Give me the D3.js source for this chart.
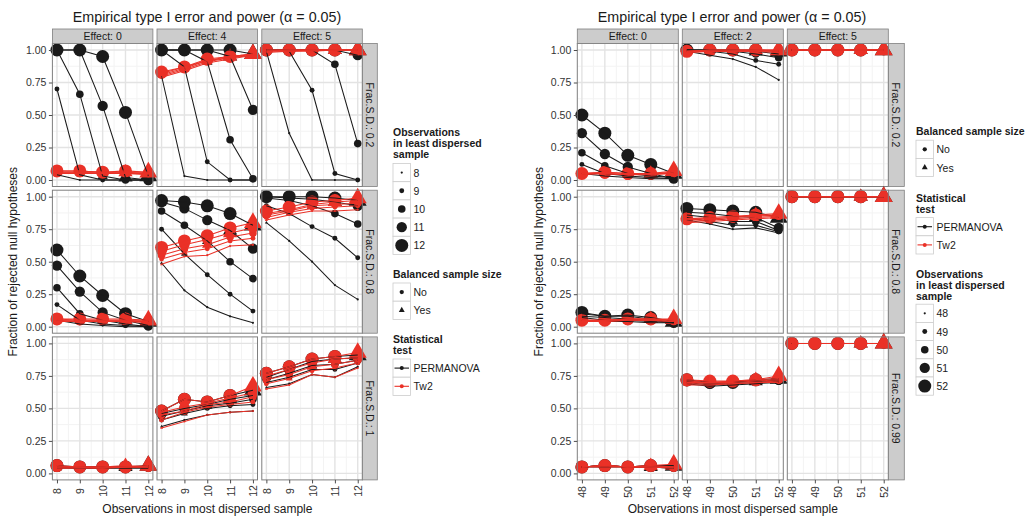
<!DOCTYPE html>
<html><head><meta charset="utf-8">
<script src="https://cdn.jsdelivr.net/npm/d3@7"></script>
<style>body{margin:0;background:#fff} svg{display:block;font-family:"Liberation Sans",Arial,Helvetica,sans-serif}</style>
</head><body><svg id="c" width="1027" height="517"></svg>
<script>
// ---------------- data ----------------
const leftObsMost = [8, 9, 10, 11, 12];
const leftObsLeast = [8, 9, 10, 11, 12];
const leftEffects = ["0", "4", "5"];
const leftFracs = ["0.2", "0.8", "1"];
const rightObsMost = [48, 49, 50, 51, 52];
const rightObsLeast = [48, 49, 50, 51, 52];
const rightEffects = ["0", "2", "5"];
const rightFracs = ["0.2", "0.8", "0.99"];
const yTicks = [0, 0.25, 0.5, 0.75, 1];
const tests = ["PERMANOVA", "Tw2"];
const balancedLevels = ["No", "Yes"];

// rows: least dispersed sample size (ascending), columns: most dispersed sample size (ascending)
const L_F02_E0_PERMANOVA = [[0.04,0.00,0.00,0.00,0.00],[0.70,0.04,0.00,0.00,0.00],[1.00,0.66,0.03,0.00,0.00],[1.00,1.00,0.57,0.02,0.00],[1.00,1.00,0.95,0.52,0.03]];
const L_F02_E0_Tw2       = [[0.05,0.05,0.05,0.05,0.04],[0.06,0.06,0.05,0.05,0.05],[0.06,0.06,0.06,0.06,0.05],[0.07,0.07,0.06,0.06,0.06],[0.07,0.07,0.06,0.07,0.06]];
const L_F02_E4_PERMANOVA = [[0.80,0.03,0.00,0.00,0.00],[1.00,0.87,0.14,0.00,0.00],[1.00,1.00,0.91,0.31,0.01],[1.00,1.00,1.00,0.95,0.54],[1.00,1.00,1.00,1.00,0.97]];
const L_F02_E4_Tw2       = [[0.79,0.84,0.90,0.93,0.96],[0.80,0.85,0.91,0.94,0.96],[0.81,0.86,0.92,0.94,0.97],[0.82,0.87,0.92,0.95,0.97],[0.83,0.87,0.93,0.95,0.97]];
const L_F02_E5_PERMANOVA = [[0.99,0.36,0.00,0.00,0.00],[1.00,0.99,0.69,0.05,0.00],[1.00,1.00,1.00,0.89,0.28],[1.00,1.00,1.00,1.00,0.96],[1.00,1.00,1.00,1.00,1.00]];
const L_F02_E5_Tw2       = [[0.98,0.99,0.99,1.00,1.00],[0.99,0.99,1.00,1.00,1.00],[0.99,1.00,1.00,1.00,1.00],[1.00,1.00,1.00,1.00,1.00],[1.00,1.00,1.00,1.00,1.00]];
const L_F08_E0_PERMANOVA = [[0.05,0.02,0.01,0.00,0.00],[0.17,0.05,0.02,0.01,0.00],[0.30,0.10,0.05,0.02,0.00],[0.47,0.27,0.11,0.05,0.01],[0.59,0.39,0.24,0.10,0.04]];
const L_F08_E0_Tw2       = [[0.04,0.04,0.04,0.04,0.03],[0.05,0.04,0.04,0.04,0.04],[0.05,0.05,0.05,0.05,0.04],[0.06,0.05,0.05,0.05,0.05],[0.06,0.06,0.06,0.06,0.05]];
const L_F08_E4_PERMANOVA = [[0.49,0.28,0.15,0.08,0.03],[0.75,0.56,0.40,0.25,0.12],[0.89,0.78,0.66,0.50,0.37],[0.96,0.91,0.82,0.74,0.60],[0.97,0.96,0.93,0.87,0.78]];
const L_F08_E4_Tw2       = [[0.48,0.54,0.55,0.62,0.63],[0.52,0.57,0.60,0.66,0.68],[0.55,0.60,0.63,0.69,0.72],[0.58,0.63,0.67,0.72,0.76],[0.61,0.66,0.70,0.76,0.80]];
const L_F08_E5_PERMANOVA = [[0.80,0.66,0.50,0.32,0.21],[0.93,0.87,0.77,0.68,0.53],[0.99,0.97,0.93,0.87,0.79],[1.00,0.99,0.98,0.96,0.93],[1.00,1.00,1.00,0.99,0.97]];
const L_F08_E5_Tw2       = [[0.82,0.86,0.89,0.89,0.90],[0.84,0.88,0.91,0.92,0.93],[0.86,0.89,0.93,0.94,0.95],[0.87,0.90,0.94,0.96,0.97],[0.89,0.92,0.96,0.97,0.99]];
const L_F1_E0_PERMANOVA  = [[0.04,0.04,0.04,0.04,0.04],[0.05,0.04,0.04,0.05,0.05],[0.05,0.05,0.05,0.05,0.05],[0.05,0.05,0.05,0.05,0.05],[0.06,0.05,0.05,0.05,0.06]];
const L_F1_E0_Tw2        = [[0.04,0.04,0.04,0.05,0.05],[0.05,0.05,0.04,0.05,0.05],[0.05,0.05,0.05,0.05,0.05],[0.05,0.05,0.05,0.06,0.05],[0.06,0.05,0.05,0.05,0.06]];
const L_F1_E4_PERMANOVA  = [[0.36,0.41,0.45,0.47,0.48],[0.41,0.46,0.50,0.52,0.53],[0.44,0.48,0.52,0.54,0.57],[0.46,0.50,0.53,0.57,0.60],[0.48,0.57,0.55,0.60,0.64]];
const L_F1_E4_Tw2        = [[0.35,0.40,0.45,0.47,0.48],[0.41,0.47,0.51,0.53,0.55],[0.45,0.48,0.53,0.55,0.59],[0.47,0.51,0.54,0.58,0.62],[0.48,0.57,0.55,0.60,0.67]];
const L_F1_E5_PERMANOVA  = [[0.66,0.69,0.76,0.74,0.82],[0.70,0.74,0.80,0.80,0.85],[0.72,0.77,0.83,0.84,0.87],[0.74,0.80,0.86,0.88,0.89],[0.77,0.82,0.88,0.90,0.91]];
const L_F1_E5_Tw2        = [[0.65,0.68,0.76,0.74,0.81],[0.69,0.73,0.79,0.81,0.85],[0.72,0.76,0.82,0.84,0.87],[0.75,0.80,0.85,0.88,0.89],[0.77,0.82,0.88,0.90,0.93]];

const R_F02_E0_PERMANOVA  = [[0.05,0.03,0.02,0.01,0.01],[0.12,0.05,0.03,0.02,0.01],[0.21,0.11,0.05,0.03,0.02],[0.36,0.20,0.10,0.05,0.01],[0.50,0.36,0.19,0.12,0.05]];
const R_F02_E0_Tw2        = [[0.04,0.05,0.04,0.04,0.05],[0.05,0.05,0.04,0.05,0.05],[0.05,0.06,0.05,0.05,0.05],[0.05,0.05,0.04,0.05,0.06],[0.05,0.06,0.05,0.05,0.07]];
const R_F02_E2_PERMANOVA  = [[0.99,0.96,0.93,0.87,0.77],[1.00,0.99,0.97,0.92,0.89],[1.00,1.00,0.99,0.97,0.94],[1.00,1.00,1.00,0.99,0.97],[1.00,1.00,1.00,1.00,0.99]];
const R_F02_E2_Tw2        = [[0.98,0.99,0.99,0.99,0.98],[0.98,0.99,0.99,0.99,0.99],[0.99,0.99,0.99,1.00,0.99],[0.99,1.00,1.00,1.00,1.00],[0.99,1.00,1.00,1.00,1.00]];
const R_F02_E5_PERMANOVA  = [[1,1,1,1,1],[1,1,1,1,1],[1,1,1,1,1],[1,1,1,1,1],[1,1,1,1,1]];
const R_F02_E5_Tw2        = [[1,1,1,1,1],[1,1,1,1,1],[1,1,1,1,1],[1,1,1,1,1],[1,1,1,1,1]];
const R_F08_E0_PERMANOVA  = [[0.05,0.04,0.04,0.03,0.03],[0.07,0.05,0.05,0.04,0.03],[0.08,0.07,0.06,0.05,0.03],[0.10,0.08,0.08,0.06,0.03],[0.11,0.08,0.09,0.07,0.04]];
const R_F08_E0_Tw2        = [[0.04,0.04,0.05,0.05,0.04],[0.05,0.04,0.05,0.05,0.04],[0.05,0.05,0.06,0.06,0.05],[0.05,0.05,0.06,0.06,0.05],[0.05,0.05,0.06,0.06,0.06]];
const R_F08_E2_PERMANOVA  = [[0.82,0.79,0.75,0.76,0.72],[0.84,0.81,0.78,0.78,0.73],[0.86,0.84,0.81,0.81,0.74],[0.88,0.87,0.85,0.84,0.76],[0.91,0.90,0.89,0.88,0.84]];
const R_F08_E2_Tw2        = [[0.80,0.81,0.82,0.83,0.84],[0.81,0.82,0.83,0.84,0.85],[0.82,0.83,0.84,0.85,0.86],[0.83,0.83,0.84,0.86,0.86],[0.83,0.84,0.85,0.86,0.87]];
const R_F08_E5_PERMANOVA  = [[1,1,1,1,1],[1,1,1,1,1],[1,1,1,1,1],[1,1,1,1,1],[1,1,1,1,1]];
const R_F08_E5_Tw2        = [[1,1,1,1,1],[1,1,1,1,1],[1,1,1,1,1],[1,1,1,1,1],[1,1,1,1,1]];
const R_F099_E0_PERMANOVA = [[0.05,0.05,0.05,0.05,0.04],[0.05,0.06,0.05,0.05,0.04],[0.05,0.06,0.05,0.06,0.05],[0.05,0.06,0.05,0.05,0.05],[0.05,0.06,0.05,0.06,0.06]];
const R_F099_E0_Tw2       = [[0.05,0.05,0.05,0.05,0.04],[0.05,0.06,0.05,0.05,0.05],[0.05,0.06,0.05,0.05,0.05],[0.05,0.06,0.05,0.06,0.05],[0.05,0.06,0.05,0.06,0.07]];
const R_F099_E2_PERMANOVA = [[0.69,0.67,0.68,0.69,0.70],[0.70,0.68,0.69,0.70,0.70],[0.71,0.69,0.70,0.71,0.71],[0.71,0.69,0.70,0.71,0.72],[0.72,0.70,0.70,0.72,0.73]];
const R_F099_E2_Tw2       = [[0.68,0.68,0.69,0.70,0.70],[0.69,0.69,0.69,0.70,0.71],[0.70,0.70,0.70,0.71,0.72],[0.71,0.70,0.71,0.72,0.73],[0.72,0.71,0.71,0.72,0.75]];
const R_F099_E5_PERMANOVA = [[1,1,1,1,1],[1,1,1,1,1],[1,1,1,1,1],[1,1,1,1,1],[1,1,1,1,1]];
const R_F099_E5_Tw2       = [[1,1,1,1,1],[1,1,1,1,1],[1,1,1,1,1],[1,1,1,1,1],[1,1,1,1,1]];

const leftData = {
  "0.2|0":[L_F02_E0_PERMANOVA,L_F02_E0_Tw2], "0.2|4":[L_F02_E4_PERMANOVA,L_F02_E4_Tw2], "0.2|5":[L_F02_E5_PERMANOVA,L_F02_E5_Tw2],
  "0.8|0":[L_F08_E0_PERMANOVA,L_F08_E0_Tw2], "0.8|4":[L_F08_E4_PERMANOVA,L_F08_E4_Tw2], "0.8|5":[L_F08_E5_PERMANOVA,L_F08_E5_Tw2],
  "1|0":[L_F1_E0_PERMANOVA,L_F1_E0_Tw2], "1|4":[L_F1_E4_PERMANOVA,L_F1_E4_Tw2], "1|5":[L_F1_E5_PERMANOVA,L_F1_E5_Tw2]
};
const rightData = {
  "0.2|0":[R_F02_E0_PERMANOVA,R_F02_E0_Tw2], "0.2|2":[R_F02_E2_PERMANOVA,R_F02_E2_Tw2], "0.2|5":[R_F02_E5_PERMANOVA,R_F02_E5_Tw2],
  "0.8|0":[R_F08_E0_PERMANOVA,R_F08_E0_Tw2], "0.8|2":[R_F08_E2_PERMANOVA,R_F08_E2_Tw2], "0.8|5":[R_F08_E5_PERMANOVA,R_F08_E5_Tw2],
  "0.99|0":[R_F099_E0_PERMANOVA,R_F099_E0_Tw2], "0.99|2":[R_F099_E2_PERMANOVA,R_F099_E2_Tw2], "0.99|5":[R_F099_E5_PERMANOVA,R_F099_E5_Tw2]
};

// ---------------- style ----------------
const COL = {PERMANOVA: "#1a1a1a", Tw2: "#ea3127"};
const diamRange = [2.2, 4.9, 7.6, 10.3, 13];
const svg = d3.select("#c");
const FONT = "'Liberation Sans',Arial,Helvetica,sans-serif";

function sym(balanced, d) {
  const a = Math.PI * (d / 2) * (d / 2);
  return d3.symbol().type(balanced ? d3.symbolTriangle : d3.symbolCircle).size(balanced ? a * 1.05 : a)();
}

function drawChart(cfg) {
  const g = svg.append("g");
  const sizeScale = d3.scaleOrdinal().domain(cfg.least).range(diamRange);
  g.append("text").attr("x", cfg.titleX).attr("y", 22).attr("text-anchor", "middle")
    .attr("font-size", 14.3).attr("fill", "#1a1a1a").text(cfg.title);
  g.append("text").attr("transform", `translate(${cfg.yTitleX},${cfg.rowTops[0] + (cfg.rowTops[2] + cfg.ph - cfg.rowTops[0]) / 2}) rotate(-90)`)
    .attr("text-anchor", "middle").attr("font-size", 12).attr("fill", "#1a1a1a").text("Fraction of rejected null hypotheses");
  g.append("text").attr("x", cfg.colLefts[0] + (cfg.colLefts[2] + cfg.pw - cfg.colLefts[0]) / 2).attr("y", 513)
    .attr("text-anchor", "middle").attr("font-size", 12).attr("fill", "#1a1a1a").text("Observations in most dispersed sample");

  cfg.fracs.forEach((fr, ri) => {
    const T = cfg.rowTops[ri];
    g.append("rect").attr("x", cfg.stripX).attr("y", T).attr("width", cfg.stripW).attr("height", cfg.ph)
      .attr("fill", "#cccccc").attr("stroke", "#7f7f7f").attr("stroke-width", 0.8);
    g.append("text").attr("transform", `translate(${cfg.stripX + cfg.stripW / 2},${T + cfg.ph / 2}) rotate(90)`)
      .attr("text-anchor", "middle").attr("dominant-baseline", "central").attr("font-size", 10.5).attr("fill", "#1a1a1a")
      .text("Frac.S.D.: " + fr);

    cfg.effects.forEach((ef, ci) => {
      const L = cfg.colLefts[ci];
      const x = d3.scaleLinear().domain([cfg.most[0] - 0.2, cfg.most[4] + 0.2]).range([L, L + cfg.pw]);
      const y = d3.scaleLinear().domain([-0.05, 1.05]).range([T + cfg.ph, T]);
      const p = g.append("g");
      p.append("rect").attr("x", L).attr("y", T).attr("width", cfg.pw).attr("height", cfg.ph).attr("fill", "#fff");
      const minorX = cfg.most.slice(0, 4).map(v => v + 0.5);
      const minorY = [0.125, 0.375, 0.625, 0.875];
      p.selectAll(".mx").data(minorX).enter().append("line").attr("x1", d => x(d)).attr("x2", d => x(d))
        .attr("y1", T).attr("y2", T + cfg.ph).attr("stroke", "#f3f3f3").attr("stroke-width", 1);
      p.selectAll(".my").data(minorY).enter().append("line").attr("y1", d => y(d)).attr("y2", d => y(d))
        .attr("x1", L).attr("x2", L + cfg.pw).attr("stroke", "#f3f3f3").attr("stroke-width", 1);
      p.selectAll(".gx").data(cfg.most).enter().append("line").attr("x1", d => x(d)).attr("x2", d => x(d))
        .attr("y1", T).attr("y2", T + cfg.ph).attr("stroke", "#e3e3e3").attr("stroke-width", 1.4);
      p.selectAll(".gy").data(yTicks).enter().append("line").attr("y1", d => y(d)).attr("y2", d => y(d))
        .attr("x1", L).attr("x2", L + cfg.pw).attr("stroke", "#e3e3e3").attr("stroke-width", 1.4);

      const mats = cfg.data[fr + "|" + ef];
      tests.forEach((t, ti) => {
        const m = mats[ti];
        const pts = [];
        cfg.least.forEach((s, si) => cfg.most.forEach((xv, xi) => pts.push({s, xv, v: m[si][xi]})));
        p.selectAll(null).data(pts).enter().append("path")
          .attr("transform", d => `translate(${x(d.xv)},${y(d.v)})`)
          .attr("d", d => sym(d.s === d.xv, sizeScale(d.s)))
          .attr("fill", COL[t]);
      });
      tests.forEach((t, ti) => {
        const m = mats[ti];
        const line = d3.line().x((d, i) => x(cfg.most[i])).y(d => y(d));
        p.selectAll(null).data(m).enter().append("path").attr("d", d => line(d))
          .attr("fill", "none").attr("stroke", COL[t]).attr("stroke-width", 1.05);
      });
      p.append("rect").attr("x", L).attr("y", T).attr("width", cfg.pw).attr("height", cfg.ph)
        .attr("fill", "none").attr("stroke", "#7f7f7f").attr("stroke-width", 1);

      if (ri === 0) {
        g.append("rect").attr("x", L).attr("y", T - 14.5).attr("width", cfg.pw).attr("height", 14.5)
          .attr("fill", "#cccccc").attr("stroke", "#7f7f7f").attr("stroke-width", 0.8);
        g.append("text").attr("x", L + cfg.pw / 2).attr("y", T - 7.2).attr("text-anchor", "middle")
          .attr("dominant-baseline", "central").attr("font-size", 10.5).attr("fill", "#1a1a1a").text("Effect: " + ef);
      }
      if (ci === 0) {
        const ax = g.append("g").attr("transform", `translate(${L},0)`)
          .call(d3.axisLeft(y).tickValues(yTicks).tickFormat(d3.format(".2f")).tickSize(3.5).tickPadding(2.5));
        ax.select(".domain").remove();
        ax.selectAll("line").attr("stroke", "#4d4d4d");
        ax.selectAll("text").attr("font-size", 10.5).attr("fill", "#333").attr("font-family", FONT);
      }
      if (ri === 2) {
        const ax = g.append("g").attr("transform", `translate(0,${T + cfg.ph})`)
          .call(d3.axisBottom(x).tickValues(cfg.most).tickFormat(d3.format("d")).tickSize(3.5));
        ax.select(".domain").remove();
        ax.selectAll("line").attr("stroke", "#4d4d4d");
        ax.selectAll("text").attr("font-size", 10.5).attr("fill", "#333").attr("font-family", FONT)
          .attr("y", 0).attr("dy", null)
          .attr("transform", `translate(0,${cfg.xLabY - (T + cfg.ph)}) rotate(-90)`)
          .attr("text-anchor", "middle").attr("dominant-baseline", "central");
      }
    });
  });
  return sizeScale;
}

function legendTitle(g, x, ys, lines) {
  lines.forEach((l, i) => g.append("text").attr("x", x).attr("y", ys[i]).attr("font-size", 10.5)
    .attr("font-weight", "bold").attr("fill", "#1a1a1a").text(l));
}
function keyBox(g, x, y) {
  g.append("rect").attr("x", x).attr("y", y).attr("width", 17.5).attr("height", 18.2)
    .attr("fill", "#fff").attr("stroke", "#cccccc").attr("stroke-width", 0.8);
}
function keyLabel(g, x, y, t) {
  g.append("text").attr("x", x + 20.5).attr("y", y + 9.1).attr("dominant-baseline", "central")
    .attr("font-size", 10.5).attr("fill", "#1a1a1a").text(t);
}
function legendSize(g, x, top, least, sizeScale) {
  least.forEach((s, i) => {
    const ky = top + i * 18.2;
    keyBox(g, x, ky);
    g.append("path").attr("transform", `translate(${x + 8.75},${ky + 9.1})`).attr("d", sym(false, sizeScale(s))).attr("fill", "#1a1a1a");
    keyLabel(g, x, ky, String(s));
  });
}
function legendBalanced(g, x, top) {
  balancedLevels.forEach((b, i) => {
    const ky = top + i * 18.2;
    keyBox(g, x, ky);
    g.append("path").attr("transform", `translate(${x + 8.75},${ky + 9.1})`).attr("d", sym(b === "Yes", 4.3)).attr("fill", "#1a1a1a");
    keyLabel(g, x, ky, b);
  });
}
function legendTest(g, x, top) {
  tests.forEach((t, i) => {
    const ky = top + i * 18.2;
    keyBox(g, x, ky);
    g.append("line").attr("x1", x + 1.5).attr("x2", x + 16).attr("y1", ky + 9.1).attr("y2", ky + 9.1)
      .attr("stroke", COL[t]).attr("stroke-width", 1.1);
    g.append("circle").attr("cx", x + 8.75).attr("cy", ky + 9.1).attr("r", 2).attr("fill", COL[t]);
    keyLabel(g, x, ky, t);
  });
}

const rowTops = [43.5, 190.2, 336.9];
const leftSize = drawChart({
  title: "Empirical type I error and power (\u03b1 = 0.05)", titleX: 207,
  colLefts: [52.4, 157.0, 261.8], pw: 100.5, ph: 143, rowTops,
  stripX: 362.3, stripW: 15, yTitleX: 17, xLabY: 491,
  most: leftObsMost, least: leftObsLeast, effects: leftEffects, fracs: leftFracs, data: leftData
});
const lg = svg.append("g");
legendTitle(lg, 393, [136, 147, 158], ["Observations", "in least dispersed", "sample"]);
legendSize(lg, 393, 163.5, leftObsLeast, leftSize);
legendTitle(lg, 393, [278], ["Balanced sample size"]);
legendBalanced(lg, 393, 283);
legendTitle(lg, 393, [343, 354], ["Statistical", "test"]);
legendTest(lg, 393, 359);

const rightSize = drawChart({
  title: "Empirical type I error and power (\u03b1 = 0.05)", titleX: 732,
  colLefts: [577.3, 682.3, 787.3], pw: 101, ph: 143, rowTops,
  stripX: 888.3, stripW: 16, yTitleX: 543, xLabY: 492,
  most: rightObsMost, least: rightObsLeast, effects: rightEffects, fracs: rightFracs, data: rightData
});
const rg = svg.append("g");
legendTitle(rg, 916, [135], ["Balanced sample size"]);
legendBalanced(rg, 916, 140.2);
legendTitle(rg, 916, [202, 212.5], ["Statistical", "test"]);
legendTest(rg, 916, 217.6);
legendTitle(rg, 916, [278, 289, 300], ["Observations", "in least dispersed", "sample"]);
legendSize(rg, 916, 304.2, rightObsLeast, rightSize);
</script></body></html>
